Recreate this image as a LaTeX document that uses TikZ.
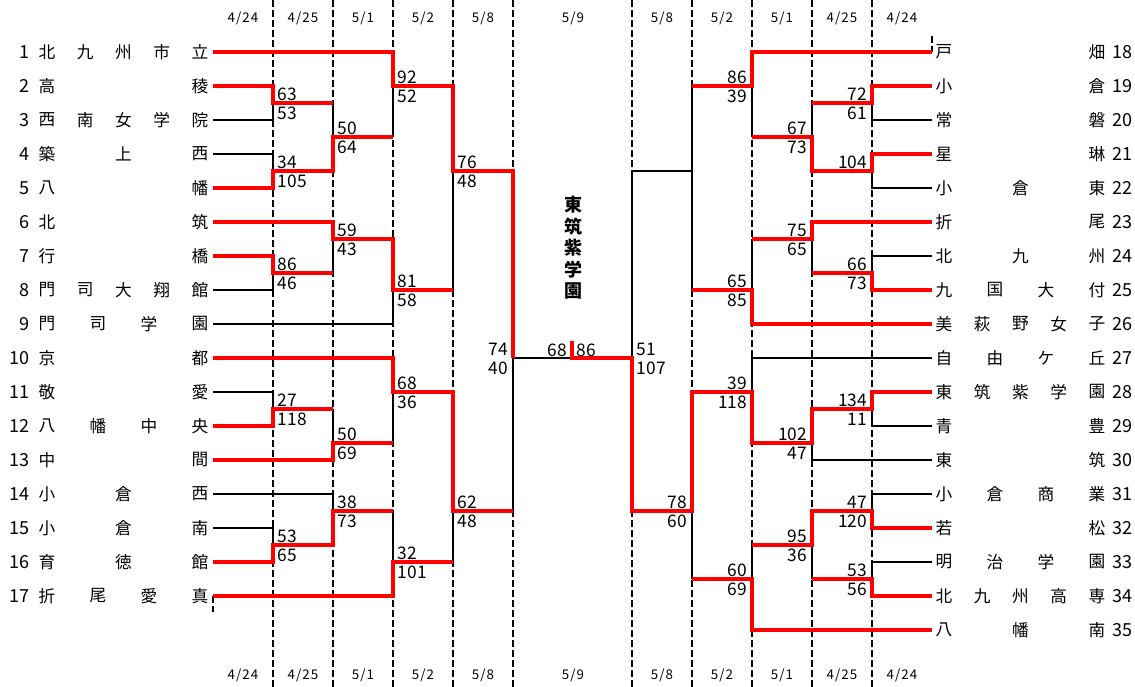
\documentclass[tikz,border=0pt]{standalone}
\usepackage{fontspec}
\setmainfont{Noto Sans CJK JP}
\newfontfamily\dayfont[LetterSpace=8]{Noto Sans CJK JP}
\tikzset{
  win/.style={red, line width=3pt},
  lose/.style={black, line width=1.5pt},
  divider/.style={black, line width=1.5pt, dash pattern=on 5.25pt off 2.25pt},
  score/.style={inner sep=0pt, font=\fontsize{13}{13}\selectfont},
  chr/.style={inner sep=0pt, font=\fontsize{12.5}{12.5}\selectfont},
  seed/.style={inner sep=0pt, font=\fontsize{13.5}{13.5}\selectfont},
  day/.style={inner sep=0pt, font=\dayfont\fontsize{10}{10}\selectfont},
}
\newcommand{\schoolL}[3]{\node[seed, anchor=east] (n#1) at (30,{2*(#1-1)}) {#1};
  \foreach \c [count=\i from 0] in {#3} {\node[chr] (c#1-\i) at ({47+\i*153/(#2-1)},{2*(#1-1)}) {\c};}}
\newcommand{\schoolR}[3]{\node[seed, anchor=west] (n#1) at (1112,{2*(#1-18)}) {#1};
  \foreach \c [count=\i from 0] in {#3} {\node[chr] (c#1-\i) at ({944+\i*153/(#2-1)},{2*(#1-18)}) {\c};}}
\newcommand{\scoreL}[4]{\node[score, anchor=south west, xshift=3.5pt, yshift=1.5pt] (t#1-#2) at (#1,#2) {#3};
  \node[score, anchor=north west, xshift=3.5pt, yshift=-3pt] (b#1-#2) at (#1,#2) {#4};}
\newcommand{\scoreR}[4]{\node[score, anchor=south east, xshift=-3.5pt, yshift=1.5pt] (t#1-#2) at (#1,#2) {#3};
  \node[score, anchor=north east, xshift=-3.5pt, yshift=-3pt] (b#1-#2) at (#1,#2) {#4};}
\begin{document}
\begin{tikzpicture}[x=0.75pt, y=-12.75pt]

\useasboundingbox (0,-3.0588) rectangle (1135,37.3529);
\foreach \x in {273,333,393,453,513,632,692,752,812,872} {\draw[divider] (\x,-3.06) -- (\x,37.36);}
\draw[divider] (213,32) -- (213,32.94);
\draw[divider] (932,-0.94) -- (932,0);
\foreach \d [count=\i from 0] in {4/24,4/25,5/1,5/2,5/8} {\node[day] (dt\i) at (243+60*\i,-2) {\d}; \node[day] (db\i) at (243+60*\i,36.65) {\d};}
\foreach \d [count=\i from 0] in {5/8,5/2,5/1,4/25,4/24} {\node[day] (et\i) at (662+60*\i,-2) {\d}; \node[day] (eb\i) at (662+60*\i,36.65) {\d};}
\node[day] (ft) at (573,-2) {5/9};
\node[day] (fb) at (573,36.65) {5/9};

\schoolL{1}{5}{北,九,州,市,立}
\schoolL{2}{2}{高,稜}
\schoolL{3}{5}{西,南,女,学,院}
\schoolL{4}{3}{築,上,西}
\schoolL{5}{2}{八,幡}
\schoolL{6}{2}{北,筑}
\schoolL{7}{2}{行,橋}
\schoolL{8}{5}{門,司,大,翔,館}
\schoolL{9}{4}{門,司,学,園}
\schoolL{10}{2}{京,都}
\schoolL{11}{2}{敬,愛}
\schoolL{12}{4}{八,幡,中,央}
\schoolL{13}{2}{中,間}
\schoolL{14}{3}{小,倉,西}
\schoolL{15}{3}{小,倉,南}
\schoolL{16}{3}{育,徳,館}
\schoolL{17}{4}{折,尾,愛,真}
\schoolR{18}{2}{戸,畑}
\schoolR{19}{2}{小,倉}
\schoolR{20}{2}{常,磐}
\schoolR{21}{2}{星,琳}
\schoolR{22}{3}{小,倉,東}
\schoolR{23}{2}{折,尾}
\schoolR{24}{3}{北,九,州}
\schoolR{25}{4}{九,国,大,付}
\schoolR{26}{5}{美,萩,野,女,子}
\schoolR{27}{4}{自,由,ケ,丘}
\schoolR{28}{5}{東,筑,紫,学,園}
\schoolR{29}{2}{青,豊}
\schoolR{30}{2}{東,筑}
\schoolR{31}{4}{小,倉,商,業}
\schoolR{32}{2}{若,松}
\schoolR{33}{4}{明,治,学,園}
\schoolR{34}{5}{北,九,州,高,専}
\schoolR{35}{3}{八,幡,南}

\draw[lose] (213,4) -| (273,3);
\draw[lose] (213,6) -| (273,7);
\draw[lose] (213,14) -| (273,13);
\draw[lose] (213,20) -| (273,21);
\draw[lose] (213,28) -| (273,29);
\draw[lose] (213,16) -| (393,14);
\draw[lose] (213,26) -| (333,27);
\draw[lose] (333,3) -- (333,5);
\draw[lose] (333,11) -- (333,13);
\draw[lose] (333,21) -- (333,23);
\draw[lose] (393,2) -- (393,5);
\draw[lose] (393,20) -- (393,23);
\draw[lose] (393,27) -- (393,30);
\draw[lose] (453,7) -- (453,14);
\draw[lose] (453,27) -- (453,30);
\draw[lose] (572,18) -| (513,27);
\draw[lose] (932,4) -| (872,3);
\draw[lose] (932,8) -| (872,7);
\draw[lose] (932,12) -| (872,13);
\draw[lose] (932,22) -| (872,21);
\draw[lose] (932,26) -| (872,27);
\draw[lose] (932,30) -| (872,31);
\draw[lose] (932,18) -| (752,20);
\draw[lose] (932,24) -| (812,23);
\draw[lose] (812,3) -- (812,5);
\draw[lose] (812,11) -- (812,13);
\draw[lose] (812,29) -- (812,31);
\draw[lose] (752,2) -- (752,5);
\draw[lose] (752,11) -- (752,14);
\draw[lose] (752,29) -- (752,31);
\draw[lose] (692,2) -- (692,14);
\draw[lose] (632,18) |- (692,7);
\draw[lose] (692,27) -- (692,31);

\draw[win] (213,0) -| (393,2) -| (453,7) -| (513,18);
\draw[win] (213,2) -| (273,3) -- (333,3);
\draw[win] (213,8) -| (273,7) -| (333,5) -- (393,5);
\draw[win] (213,10) -| (333,11) -| (393,14) -- (453,14);
\draw[win] (213,12) -| (273,13) -- (333,13);
\draw[win] (213,18) -| (393,20) -| (453,27) -- (513,27);
\draw[win] (213,22) -| (273,21) -- (333,21);
\draw[win] (213,24) -| (333,23) -- (393,23);
\draw[win] (213,30) -| (273,29) -| (333,27) -- (393,27);
\draw[win] (213,32) -| (393,30) -- (453,30);
\draw[win] (932,0) -| (752,2) -- (692,2);
\draw[win] (932,2) -| (872,3) -- (812,3);
\draw[win] (932,6) -| (872,7) -| (812,5) -- (752,5);
\draw[win] (932,10) -| (812,11) -- (752,11);
\draw[win] (932,14) -| (872,13) -- (812,13);
\draw[win] (932,16) -| (752,14) -- (692,14);
\draw[win] (932,20) -| (872,21) -| (812,23) -| (752,20) -| (692,27) -| (632,18) -| (572,17);
\draw[win] (932,28) -| (872,27) -| (812,29) -- (752,29);
\draw[win] (932,32) -| (872,31) -- (812,31);
\draw[win] (932,34) -| (752,31) -- (692,31);

\scoreL{273}{3}{63}{53}
\scoreL{273}{7}{34}{105}
\scoreL{273}{13}{86}{46}
\scoreL{273}{21}{27}{118}
\scoreL{273}{29}{53}{65}
\scoreL{333}{5}{50}{64}
\scoreL{333}{11}{59}{43}
\scoreL{333}{23}{50}{69}
\scoreL{333}{27}{38}{73}
\scoreL{393}{2}{92}{52}
\scoreL{393}{14}{81}{58}
\scoreL{393}{20}{68}{36}
\scoreL{393}{30}{32}{101}
\scoreL{453}{7}{76}{48}
\scoreL{453}{27}{62}{48}
\scoreR{513}{18}{74}{40}
\scoreR{872}{3}{72}{61}
\scoreR{872}{7}{104}{}
\scoreR{872}{13}{66}{73}
\scoreR{872}{21}{134}{11}
\scoreR{872}{27}{47}{120}
\scoreR{872}{31}{53}{56}
\scoreR{812}{5}{67}{73}
\scoreR{812}{11}{75}{65}
\scoreR{812}{23}{102}{47}
\scoreR{812}{29}{95}{36}
\scoreR{752}{2}{86}{39}
\scoreR{752}{14}{65}{85}
\scoreR{752}{20}{39}{118}
\scoreR{752}{31}{60}{69}
\scoreR{692}{27}{78}{60}
\scoreL{632}{18}{51}{107}
\node[score, anchor=south east, xshift=-3.5pt, yshift=1pt] (fl) at (572,18) {68};
\node[score, anchor=south west, xshift=3.5pt, yshift=1pt] (fr) at (572,18) {86};
\node[inner sep=0pt, align=center, font=\fontsize{13.5}{16.1}\selectfont\bfseries] (champ) at (573,11.53) {東\\筑\\紫\\学\\園};

\end{tikzpicture}
\end{document}
